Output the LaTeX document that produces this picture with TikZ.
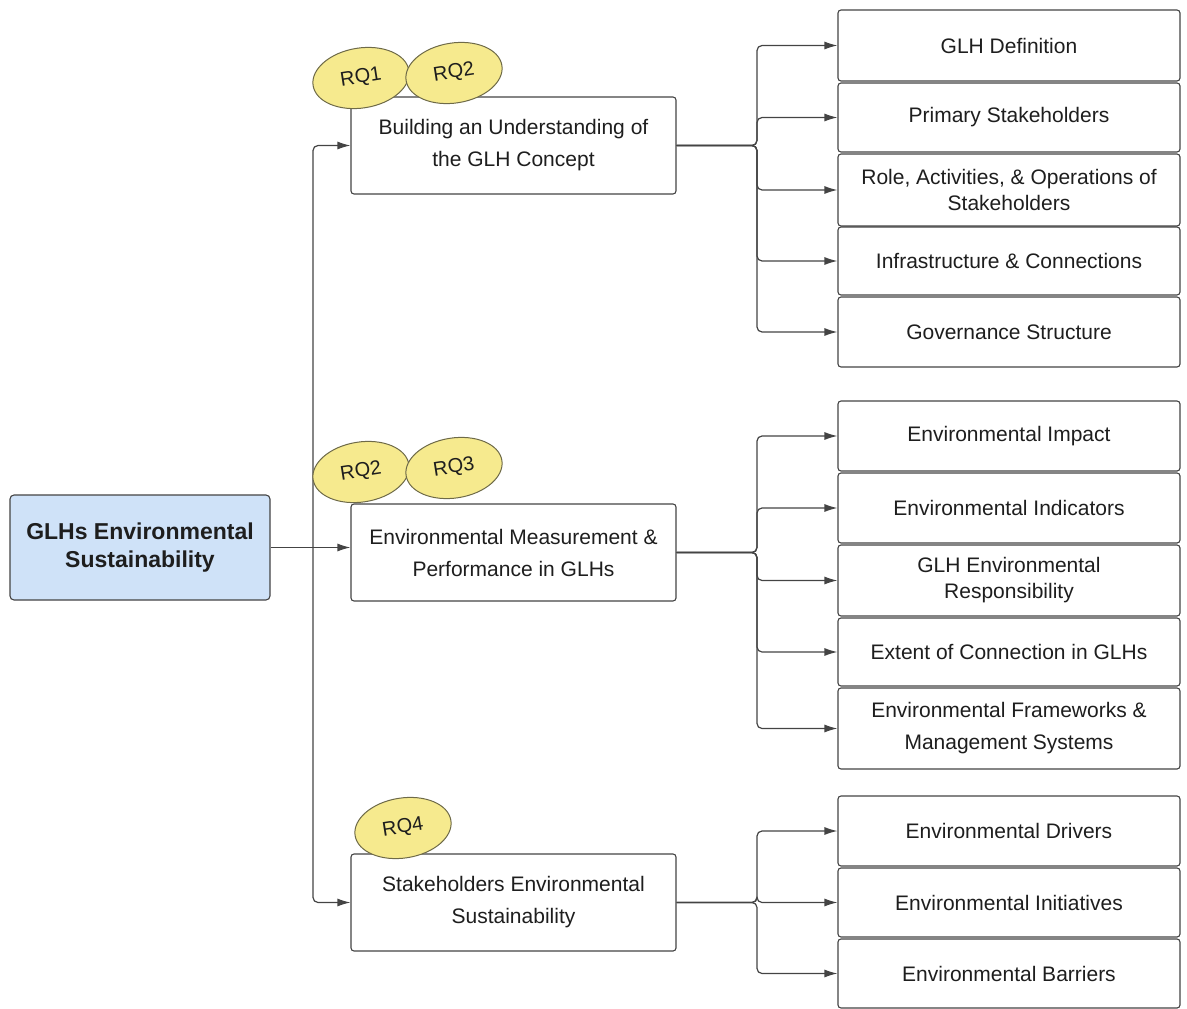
\documentclass[tikz,border=0pt]{standalone}
\usepackage{fontspec}
\setmainfont{Liberation Sans}
\usetikzlibrary{shapes.geometric,arrows.meta}
\definecolor{txt}{HTML}{1E1E1E}
\definecolor{edge}{HTML}{444444}
\definecolor{mainblue}{HTML}{CFE2F8}
\definecolor{rqyel}{HTML}{F6EA8E}
\definecolor{rqedge}{HTML}{6E6A48}
\tikzset{
  leafbox/.style={draw=edge, line width=1.1pt, rounded corners=3pt, fill=white, minimum width=342pt, inner sep=0pt, align=center, text=txt, font=\fontsize{21}{26}\selectfont},
  midbox/.style={draw=edge, line width=1.1pt, rounded corners=3pt, fill=white, minimum width=325pt, minimum height=97pt, inner sep=0pt, align=center, text=txt, font=\fontsize{21}{32}\selectfont},
  rootbox/.style={draw=edge, line width=1.1pt, rounded corners=4pt, fill=mainblue, minimum width=260pt, minimum height=105pt, inner sep=0pt, align=center, text=txt, font=\fontsize{23}{28}\selectfont\bfseries},
  rq/.style={ellipse, draw=rqedge, line width=1pt, fill=rqyel, minimum width=97pt, minimum height=60pt, inner sep=0pt, text=txt, font=\fontsize{20}{24}\selectfont, rotate=9},
  conn/.style={draw=edge, line width=1.2pt, rounded corners=5pt},
  arr/.style={conn, -{Latex[length=13pt,width=8pt]}}
}
\begin{document}
\begin{tikzpicture}[x=1pt,y=-1pt]
\useasboundingbox (0,0) rectangle (1187,1009);
% root
\node[rootbox] (root) at (140,547.5) {GLHs Environmental\\Sustainability};
% middle boxes
\node[midbox] (b1) at (513.5,145.5) {Building an Understanding of\\the GLH Concept};
\node[midbox] (b2) at (513.5,552.5) {Environmental Measurement \&\\Performance in GLHs};
\node[midbox] (b3) at (513.5,902.5) {Stakeholders Environmental\\Sustainability};
% leaves group 1
\node[leafbox, minimum height=71pt] (r11) at (1009,45.5) {GLH Definition};
\node[leafbox, minimum height=69pt] (r12) at (1009,117.5) {Primary Stakeholders};
\node[leafbox, minimum height=72pt] (r13) at (1009,190) {Role, Activities, \& Operations of\\Stakeholders};
\node[leafbox, minimum height=68pt] (r14) at (1009,261) {Infrastructure \& Connections};
\node[leafbox, minimum height=70pt] (r15) at (1009,332) {Governance Structure};
% leaves group 2
\node[leafbox, minimum height=70pt] (r21) at (1009,436) {Environmental Impact};
\node[leafbox, minimum height=70pt] (r22) at (1009,508) {Environmental Indicators};
\node[leafbox, minimum height=71pt] (r23) at (1009,580.5) {GLH Environmental\\Responsibility};
\node[leafbox, minimum height=68pt] (r24) at (1009,652) {Extent of Connection in GLHs};
\node[leafbox, minimum height=81pt, font=\fontsize{21}{32}\selectfont] (r25) at (1009,728.5) {Environmental Frameworks \&\\Management Systems};
% leaves group 3
\node[leafbox, minimum height=70pt] (r31) at (1009,831) {Environmental Drivers};
\node[leafbox, minimum height=69pt] (r32) at (1009,902.5) {Environmental Initiatives};
\node[leafbox, minimum height=69pt] (r33) at (1009,973.5) {Environmental Barriers};
% junction coordinates
\coordinate (sp) at (313,547.5);
\coordinate (j1) at (757,145.5);
\coordinate (j2) at (757,552.5);
\coordinate (j3) at (757,902.5);
% root connectors
\draw[arr] (root.east) -- (b2.west |- root.east);
\draw[arr] (sp) |- (b1.west);
\draw[arr] (sp) |- (b3.west);
% group connectors
\foreach \r in {r11,r12,r13,r14,r15} \draw[arr] (b1.east) -- (j1) |- (\r.west);
\foreach \r in {r21,r22,r23,r24,r25} \draw[arr] (b2.east) -- (j2) |- (\r.west);
\foreach \r in {r31,r32,r33} \draw[arr] (b3.east) -- (j3) |- (\r.west);
% RQ ellipses
\node[rq] (q11) at (361,78) {RQ1};
\node[rq] (q12) at (454,73) {RQ2};
\node[rq] (q22) at (361,472) {RQ2};
\node[rq] (q23) at (454,468) {RQ3};
\node[rq] (q34) at (403,828) {RQ4};
\end{tikzpicture}
\end{document}
